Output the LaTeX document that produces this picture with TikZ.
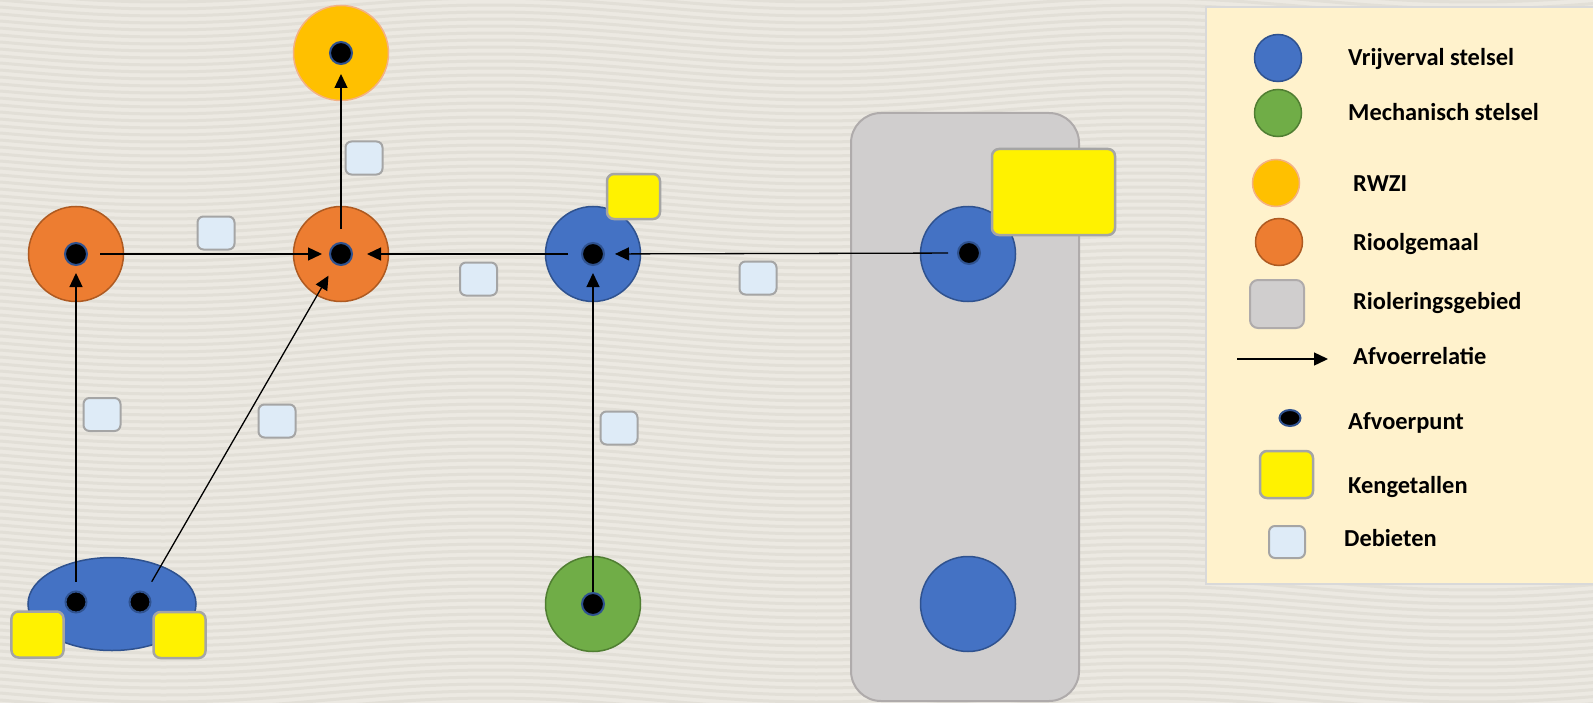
\documentclass[tikz,border=0pt]{standalone}
\usepackage{fontspec}
\setmainfont{Carlito}
\usetikzlibrary{arrows.meta,shapes.geometric}
\definecolor{bgcol}{HTML}{ECE9E2}
\definecolor{wavecol}{HTML}{E2DFD7}
\definecolor{vvfill}{HTML}{4472C4}
\definecolor{vvline}{HTML}{2F528F}
\definecolor{mfill}{HTML}{70AD47}
\definecolor{mline}{HTML}{507E32}
\definecolor{rwfill}{HTML}{FFC000}
\definecolor{rwline}{HTML}{F4B183}
\definecolor{rgfill}{HTML}{ED7D31}
\definecolor{rgline}{HTML}{AE5A21}
\definecolor{areafill}{HTML}{D0CECE}
\definecolor{arealine}{HTML}{AFABAB}
\definecolor{kgrey}{HTML}{A5A5A5}
\definecolor{debfill}{HTML}{DEEBF7}
\definecolor{legfill}{HTML}{FFF2CC}
\definecolor{legline}{HTML}{D9D9D9}
\begin{document}
\begin{tikzpicture}[x=1bp,y=-1bp,
  blob/.style={circle, draw, line width=1.5bp, minimum size=95bp, inner sep=0pt},
  vv/.style={blob, fill=vvfill, draw=vvline},
  mech/.style={blob, fill=mfill, draw=mline},
  rwzi/.style={blob, fill=rwfill, draw=rwline},
  gemaal/.style={blob, fill=rgfill, draw=rgline},
  afp/.style={circle, fill=black, draw=vvline, line width=2bp, minimum size=22bp, inner sep=0pt},
  keng/.style={draw=kgrey, line width=2.5bp, fill=yellow, rounded corners=7bp, inner sep=0pt},
  deb/.style={draw=kgrey, line width=2bp, fill=debfill, rounded corners=6bp, minimum width=37bp, minimum height=33bp, inner sep=0pt},
  flow/.style={-{Triangle[length=14bp,width=13bp]}, line width=1.3bp},
  lbl/.style={anchor=base west, font=\fontsize{24.5}{29}\selectfont\bfseries, inner sep=0pt},
  legblob/.style={circle, draw, line width=1.5bp, minimum size=47bp, inner sep=0pt}
]
\useasboundingbox (0,0) rectangle (1593,703);
% background
\fill[bgcol] (0,0) rectangle (1593,703);
\foreach \k in {-3,...,103}
  \draw[wavecol, line width=3bp] plot[domain=0:1593, samples=50, smooth] (\x, {\k*7 + 9*sin(\x*0.55)});

% grey area (rioleringsgebied)
\draw[fill=areafill, draw=arealine, line width=2bp, rounded corners=30bp] (851,113) rectangle (1079,701);

% legend box
\draw[fill=legfill, draw=legline, line width=1.5bp] (1206,7) rectangle (1600,584);

% main nodes
\node[rwzi] (rw) at (341,53) {};
\node[gemaal] (gl) at (76,254) {};
\node[gemaal] (gm) at (341,254) {};
\node[vv] (bm) at (593,254) {};
\node[vv] (br) at (968,254) {};
\node[vv] (bb) at (968,604) {};
\node[mech] (gr) at (593,604) {};
\node[ellipse, fill=vvfill, draw=vvline, line width=1.5bp, minimum width=168bp, minimum height=93bp, inner sep=0pt] (el) at (112,604) {};

% kengetallen
\node[keng, minimum width=123bp, minimum height=86bp] (k1) at (1053.5,192) {};
\node[keng, minimum width=53bp, minimum height=45bp] (k2) at (633.5,196.5) {};
\node[keng, minimum width=52bp, minimum height=46bp] (k3) at (37.5,634.5) {};
\node[keng, minimum width=52bp, minimum height=46bp] (k4) at (179.5,635) {};

% debieten
\node[deb] (q1) at (364,158) {};
\node[deb] (q2) at (216,233) {};
\node[deb] (q3) at (478.5,279) {};
\node[deb] (q4) at (758,278) {};
\node[deb] (q5) at (102,414.5) {};
\node[deb] (q6) at (277,421) {};
\node[deb] (q7) at (619,428) {};

% afvoerpunten
\node[afp] (drw) at (341,53) {};
\node[afp] (dgl) at (76,254) {};
\node[afp] (dgm) at (341,254) {};
\node[afp] (dbm) at (593,254) {};
\node[afp] (dbr) at (969,253) {};
\node[afp] (dgr) at (593,604) {};
\node[afp, minimum size=21bp] (de1) at (76,602) {};
\node[afp, minimum size=21bp] (de2) at (140,602) {};

% afvoerrelaties
\draw[flow, shorten <=12bp, shorten >=7bp] (dgl) -- (dgm);
\draw[flow, shorten <=13bp, shorten >=14bp] (dbm) -- (dgm);
\draw[flow, shorten <=9bp, shorten >=10bp] (dbr) -- (dbm);
\draw[flow, shorten <=13bp, shorten >=9bp] (dgm) -- (drw);
\draw[flow, shorten <=9bp, shorten >=7bp] (de1) -- (dgl);
\draw[flow, shorten <=12bp, shorten >=13bp] (de2) -- (dgm);
\draw[flow, shorten >=7bp] (dgr) -- (dbm);

% legend symbols
\node[legblob, fill=vvfill, draw=vvline] (l1) at (1278,58) {};
\node[legblob, fill=mfill, draw=mline] (l2) at (1278,113) {};
\node[legblob, fill=rwfill, draw=rwline] (l3) at (1276,183) {};
\node[legblob, fill=rgfill, draw=rgline] (l4) at (1279,242) {};
\node[draw=arealine, fill=areafill, line width=2bp, rounded corners=8bp, minimum width=54bp, minimum height=48bp, inner sep=0pt] (l5) at (1277,304) {};
\coordinate (la1) at (1237,359);
\coordinate (la2) at (1328,359);
\draw[flow] (la1) -- (la2);
\node[ellipse, fill=black, draw=vvline, line width=2bp, minimum width=21bp, minimum height=16bp, inner sep=0pt] (l7) at (1290,418) {};
\node[keng, minimum width=53bp, minimum height=47bp] (l8) at (1286.5,474.5) {};
\node[deb, minimum width=36bp, minimum height=32bp] (l9) at (1287,542) {};

% legend labels
\node[lbl] (t1) at (1348,66) {Vrijverval stelsel};
\node[lbl] (t2) at (1348,121) {Mechanisch stelsel};
\node[lbl] (t3) at (1353,191) {RWZI};
\node[lbl] (t4) at (1353,250) {Rioolgemaal};
\node[lbl] (t5) at (1353,309) {Rioleringsgebied};
\node[lbl] (t6) at (1353,364) {Afvoerrelatie};
\node[lbl] (t7) at (1348,429) {Afvoerpunt};
\node[lbl] (t8) at (1348,493) {Kengetallen};
\node[lbl] (t9) at (1344,546) {Debieten};
\end{tikzpicture}
\end{document}
